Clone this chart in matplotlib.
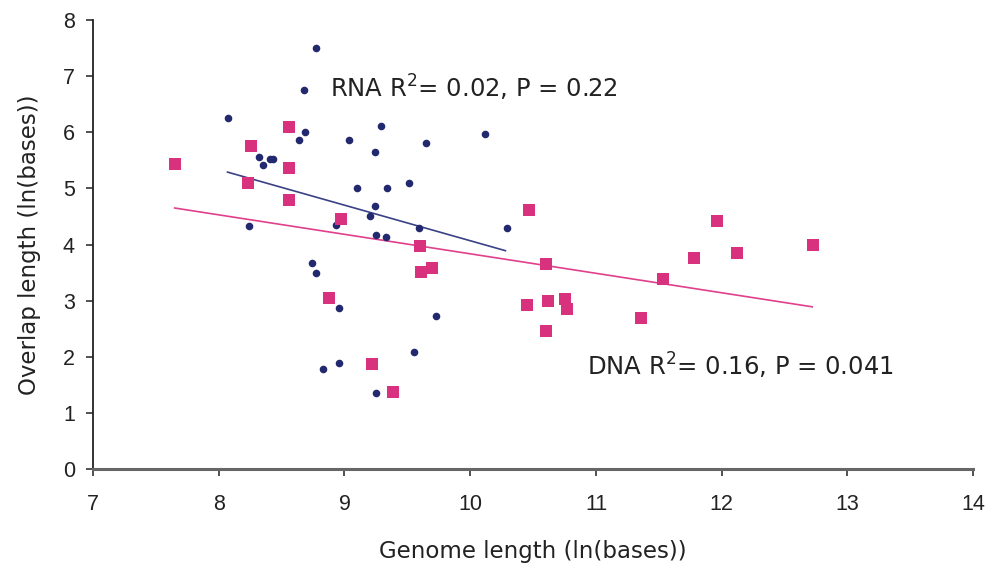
import numpy as np
import matplotlib
matplotlib.use('Agg')
import matplotlib.pyplot as plt

# RNA genomes (navy dots)
rna_x = [8.77, 8.68, 8.07, 8.69, 8.64, 9.04, 9.29, 9.65, 9.24, 10.12,
         8.32, 8.35, 8.41, 8.43, 8.24, 9.10, 9.34, 9.51, 9.24, 9.20,
         8.93, 9.59, 9.25, 9.33, 10.29, 8.74, 8.77, 8.96, 9.73, 9.55,
         8.96, 8.83, 9.25]
rna_y = [7.50, 6.76, 6.26, 6.01, 5.86, 5.86, 6.11, 5.81, 5.65, 5.97,
         5.56, 5.42, 5.52, 5.53, 4.33, 5.01, 5.01, 5.10, 4.69, 4.51,
         4.35, 4.30, 4.17, 4.14, 4.30, 3.67, 3.49, 2.87, 2.73, 2.09,
         1.89, 1.78, 1.35]

# DNA genomes (pink squares)
dna_x = [7.65, 8.26, 8.56, 8.56, 8.23, 8.56, 8.97, 8.88, 9.22, 9.39,
         9.60, 9.61, 9.70, 10.47, 10.60, 10.45, 10.62, 10.75, 10.77, 10.60,
         11.36, 11.53, 11.78, 11.96, 12.12, 12.73]
dna_y = [5.44, 5.76, 6.10, 5.37, 5.10, 4.80, 4.46, 3.05, 1.87, 1.37,
         3.98, 3.51, 3.58, 4.62, 3.65, 2.92, 2.99, 3.03, 2.85, 2.46,
         2.69, 3.39, 3.76, 4.42, 3.85, 3.99]

# linear trend lines (end points)
rna_fit_x = [8.07, 10.28]
rna_fit_y = [5.29, 3.89]
dna_fit_x = [7.65, 12.72]
dna_fit_y = [4.65, 2.89]

navy = '#23296f'
pink = '#d8327f'

fig = plt.figure(figsize=(9.89, 5.71), dpi=100)
ax = fig.add_axes([0.094, 0.1786, 0.89, 0.7864])

ax.plot(rna_fit_x, rna_fit_y, color='#3a4185', linewidth=1.2, zorder=2)
ax.plot(dna_fit_x, dna_fit_y, color='#e0408c', linewidth=1.2, zorder=2)
ax.scatter(rna_x, rna_y, s=30, marker='o', color=navy, linewidths=0, zorder=3)
ax.scatter(dna_x, dna_y, s=64, marker='s', color=pink, linewidths=0, zorder=3)

ax.text(8.885, 6.79, 'RNA R$^2$= 0.02, P = 0.22', fontsize=17.5,
        va='center', ha='left', color='#222222', family='DejaVu Sans')
ax.text(10.93, 1.84, 'DNA R$^2$= 0.16, P = 0.041', fontsize=17.5,
        va='center', ha='left', color='#222222', family='DejaVu Sans')

ax.set_xlim(7, 14)
ax.set_ylim(0, 8)
ax.set_xticks(np.arange(7, 15, 1))
ax.set_yticks(np.arange(0, 9, 1))

for s in ['top', 'right']:
    ax.spines[s].set_visible(False)
ax.spines['left'].set_color('#222222')
ax.spines['left'].set_linewidth(1.3)
ax.spines['bottom'].set_color('#666666')
ax.spines['bottom'].set_linewidth(2.2)
ax.tick_params(axis='both', direction='out', length=5, width=1.2,
               colors='#333333', labelsize=15.5, labelcolor='#222222',
               labelfontfamily='Liberation Sans')
ax.tick_params(axis='x', pad=13)
ax.tick_params(axis='y', pad=8)

ax.set_xlabel('Genome length (ln(bases))', fontsize=16.5, color='#222222',
              family='DejaVu Sans', labelpad=18)
ax.set_ylabel('Overlap length (ln(bases))', fontsize=16.5, color='#222222',
              family='DejaVu Sans', labelpad=16)

fig.savefig('out.png', dpi=100)
